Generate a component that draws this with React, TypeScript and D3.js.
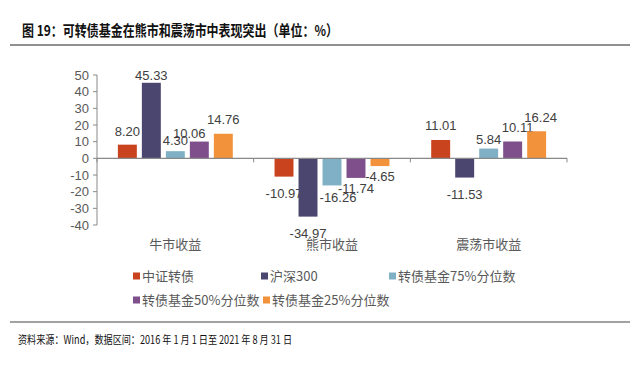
import * as d3 from 'd3';

const categories = ['牛市收益', '熊市收益', '震荡市收益'];
const seriesNames = ['中证转债', '沪深300', '转债基金75%分位数', '转债基金50%分位数', '转债基金25%分位数'];
const seriesColors = ['#C9431F', '#4B4670', '#7FB0C6', '#7E4F8B', '#F2923A'];
const values = [
  [8.2, 45.33, 4.3, 10.06, 14.76],
  [-10.97, -34.97, -16.26, -11.74, -4.65],
  [11.01, -11.53, 5.84, 10.11, 16.24],
];
const yTicks = [50, 40, 30, 20, 10, 0, -10, -20, -30, -40];

// hand-placed data label nudges [dx, dy] as in the source chart
const labelNudge = [
  [[0, -9], [0, -3], [0, -6], [-10, -4], [0, -10]],
  [[0, 21], [0, 21], [6, 17], [0, 15], [0, 15]],
  [[0, -10], [0, 21], [0, -5], [5, -9], [4, -9]],
];

const W = 640;
const H = 370;
const FONT = "Arial, 'Liberation Sans', 'Noto Sans CJK SC', sans-serif";
const CJK = "'Noto Sans CJK SC', sans-serif";

export default function App() {
  const x0 = d3.scaleBand<string>().domain(categories).range([97, 567]);
  const x1 = d3
    .scaleBand<string>()
    .domain(seriesNames)
    .range([0, x0.bandwidth()])
    .paddingInner(0.21)
    .paddingOuter(0.87);
  const y = d3.scaleLinear().domain([-40, 50]).range([225, 75]);

  // legend slots: two rows
  const legendPos = [
    [133, 276],
    [261, 276],
    [389, 276],
    [133, 300],
    [263, 300],
  ];

  return (
    <svg
      width={W}
      height={H}
      style={{ position: 'absolute', left: 0, top: 0, background: '#fff' }}
    >
      <text
        x={22}
        y={36}
        fontFamily={CJK}
        fontWeight="bold"
        fontSize={15}
        fill="#111"
        textLength={316}
        lengthAdjust="spacingAndGlyphs"
      >
        图 19：可转债基金在熊市和震荡市中表现突出（单位：%）
      </text>
      <line x1={10} x2={630} y1={45} y2={45} stroke="#222" strokeWidth={1.2} />

      {/* y axis */}
      <line x1={97} x2={97} y1={y(50)} y2={y(-40)} stroke="#888" />
      {yTicks.map((t) => (
        <g key={t}>
          <line x1={93} x2={97} y1={y(t)} y2={y(t)} stroke="#888" />
          <text
            x={89}
            y={y(t)}
            dy="0.35em"
            textAnchor="end"
            fontFamily={FONT}
            fontSize={13}
            fill="#595959"
          >
            {t}
          </text>
        </g>
      ))}

      {/* bars */}
      {categories.map((c, ci) => (
        <g key={c} transform={`translate(${x0(c)},0)`}>
          {seriesNames.map((s, si) => {
            const v = values[ci][si];
            const bx = x1(s) ?? 0;
            const [dx, dy] = labelNudge[ci][si];
            return (
              <g key={s}>
                <rect
                  x={bx}
                  y={Math.min(y(v), y(0))}
                  width={x1.bandwidth()}
                  height={Math.abs(y(v) - y(0))}
                  fill={seriesColors[si]}
                />
                <text
                  x={bx + x1.bandwidth() / 2 + dx}
                  y={y(v) + dy}
                  textAnchor="middle"
                  fontFamily={FONT}
                  fontSize={13}
                  fill="#404040"
                >
                  {v.toFixed(2)}
                </text>
              </g>
            );
          })}
        </g>
      ))}

      {/* zero axis */}
      <line x1={97} x2={567} y1={y(0)} y2={y(0)} stroke="#888" strokeWidth={1.2} />
      {[97, ...categories.map((c) => (x0(c) ?? 0) + x0.bandwidth())].map((px) => (
        <line key={px} x1={px} x2={px} y1={y(0)} y2={y(0) + 4} stroke="#888" />
      ))}
      {categories.map((c) => (
        <text
          key={c}
          x={(x0(c) ?? 0) + x0.bandwidth() / 2}
          y={249}
          textAnchor="middle"
          fontFamily={CJK}
          fontSize={13}
          fill="#595959"
        >
          {c}
        </text>
      ))}

      {/* legend */}
      {seriesNames.map((s, i) => (
        <g key={s} transform={`translate(${legendPos[i][0]},${legendPos[i][1]})`}>
          <rect x={0} y={-3.5} width={7} height={7} fill={seriesColors[i]} />
          <text x={9} y={0} dy="0.35em" fontFamily={CJK} fontSize={13} fill="#595959">
            {s}
          </text>
        </g>
      ))}

      <line x1={10} x2={630} y1={322} y2={322} stroke="#444" strokeWidth={1} />
      <text
        x={18}
        y={344}
        fontFamily={CJK}
        fontSize={11.5}
        fill="#111"
        textLength={274}
        lengthAdjust="spacingAndGlyphs"
      >
        资料来源：Wind，数据区间：2016 年 1 月 1 日至 2021 年 8 月 31 日
      </text>
    </svg>
  );
}
